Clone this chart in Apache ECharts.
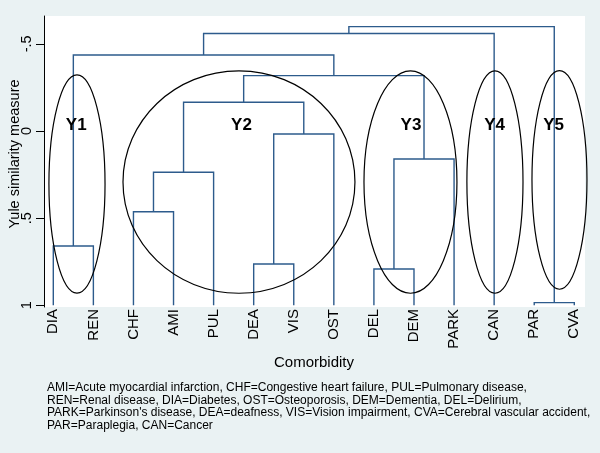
<!DOCTYPE html>
<html><head><meta charset="utf-8">
<script src="https://cdn.jsdelivr.net/npm/echarts@6/dist/echarts.min.js"></script>
<style>html,body{margin:0;padding:0;background:#EAF2F3}#c{width:600px;height:453px}</style>
</head><body><div id="c"></div>
<script>
// ---- data ----
const leaves = ['DIA','REN','CHF','AMI','PUL','DEA','VIS','OST','DEL','DEM','PARK','CAN','PAR','CVA'];
const leafHeight = 1;
// merges: node ids 0..13 are leaves, new clusters get ids 14, 15, ...
const mergeA = [0, 2, 15, 5, 17, 16, 8, 20, 19, 14, 23, 12, 24];
const mergeB = [1, 3, 4, 6, 7, 18, 9, 10, 21, 22, 11, 13, 25];
const mergeHeight = [0.660, 0.463, 0.237, 0.763, 0.017, -0.165, 0.792, 0.161, -0.318, -0.436, -0.560, 0.985, -0.599];
const yTicks = [-0.5, 0, 0.5, 1];
const yTickLabels = ['-.5', '0', '.5', '1'];
const clusterNames = ['Y1', 'Y2', 'Y3', 'Y4', 'Y5'];
const footnoteLines = [
  'AMI=Acute myocardial infarction, CHF=Congestive heart failure, PUL=Pulmonary disease,',
  'REN=Renal disease, DIA=Diabetes, OST=Osteoporosis, DEM=Dementia, DEL=Delirium,',
  "PARK=Parkinson's disease, DEA=deafness, VIS=Vision impairment, CVA=Cerebral vascular accident,",
  'PAR=Paraplegia, CAN=Cancer'
];
const xTitle = 'Comorbidity';
const yTitle = 'Yule similarity measure';

// ---- annotation layout (ellipses around clusters, in axis units) ----
const ellipseCx = [1.591, 5.633, 9.912, 12.02, 13.63];
const ellipseCy = [0.304, 0.293, 0.293, 0.293, 0.281];
const ellipseRx = [0.70, 2.894, 1.16, 0.70, 0.686];
const ellipseRy = [0.626, 0.638, 0.638, 0.638, 0.627];
const labelX = [1.572, 5.696, 9.925, 12.013, 13.485];
const labelY = -0.034;

// ---- build dendrogram segments ----
const nodeX = leaves.map((_, i) => i + 1);
const nodeY = leaves.map(() => leafHeight);
const segs = [];
mergeA.forEach((a, k) => {
  const b = mergeB[k], h = mergeHeight[k];
  segs.push([nodeX[a], nodeY[a], nodeX[b], nodeY[b], h]);
  nodeX.push((nodeX[a] + nodeX[b]) / 2);
  nodeY.push(h);
});
const ellData = clusterNames.map((n, i) => [ellipseCx[i], ellipseCy[i], ellipseRx[i], ellipseRy[i]]);
const lblData = clusterNames.map((n, i) => [labelX[i], labelY, n]);

const FONT = '"Liberation Sans", Arial, Helvetica, sans-serif';
const chart = echarts.init(document.getElementById('c'), null, {renderer: 'canvas'});
chart.setOption({
  backgroundColor: '#EAF2F3',
  animation: false,
  grid: {left: 44, right: 15, top: 16, bottom: 146, show: true, backgroundColor: '#ffffff', borderWidth: 0, containLabel: false},
  xAxis: {
    type: 'value', min: 0.768, max: 14.267,
    axisLine: {show: false}, axisTick: {show: false}, splitLine: {show: false},
    axisLabel: {
      customValues: leaves.map((_, i) => i + 1),
      formatter: v => leaves[Math.round(v) - 1],
      rotate: 90, margin: 2, fontSize: 15, color: '#000', fontFamily: FONT
    }
  },
  yAxis: {
    type: 'value', inverse: true, min: -0.66, max: 1.01,
    axisLine: {show: true, lineStyle: {color: '#000', width: 1}},
    axisTick: {show: true, customValues: yTicks, length: 8, lineStyle: {color: '#000', width: 1}},
    axisLabel: {
      customValues: yTicks,
      formatter: v => { const i = yTicks.findIndex(t => Math.abs(t - v) < 1e-9); return i >= 0 ? yTickLabels[i] : ''; },
      rotate: 90, margin: 10, fontSize: 14.5, color: '#000', fontFamily: FONT
    },
    splitLine: {show: false}
  },
  graphic: [
    {type: 'text', x: 314, y: 363, style: {text: xTitle, font: '15px ' + FONT, fill: '#000', align: 'center', verticalAlign: 'middle'}},
    {type: 'text', x: 15, y: 154, rotation: Math.PI / 2, style: {text: yTitle, font: '14.5px ' + FONT, fill: '#000', align: 'center', verticalAlign: 'middle'}},
    {type: 'text', x: 47, y: 381, style: {text: footnoteLines.join('\n'), font: '12px ' + FONT, lineHeight: 12.8, fill: '#000', align: 'left', verticalAlign: 'top'}}
  ],
  series: [
    {
      type: 'custom', name: 'dendrogram', data: segs, silent: true,
      renderItem: (params, api) => {
        const xa = api.value(0), ya = api.value(1), xb = api.value(2), yb = api.value(3), h = api.value(4);
        return {
          type: 'polyline',
          shape: {points: [api.coord([xa, ya]), api.coord([xa, h]), api.coord([xb, h]), api.coord([xb, yb])]},
          style: {stroke: '#2d5b8c', lineWidth: 1.4, fill: null}
        };
      }
    },
    {
      type: 'custom', name: 'clusters', data: ellData, silent: true,
      renderItem: (params, api) => {
        const c = api.coord([api.value(0), api.value(1)]);
        const s = api.size([api.value(2), api.value(3)]);
        return {type: 'ellipse', shape: {cx: c[0], cy: c[1], rx: s[0], ry: s[1]}, style: {stroke: '#000', lineWidth: 1.2, fill: null}};
      }
    },
    {
      type: 'custom', name: 'labels', data: lblData, silent: true,
      renderItem: (params, api) => {
        const c = api.coord([api.value(0), api.value(1)]);
        return {type: 'text', x: c[0], y: c[1], style: {text: lblData[params.dataIndex][2], font: 'bold 17px ' + FONT, fill: '#000', align: 'center', verticalAlign: 'middle'}};
      }
    }
  ]
});
</script></body></html>
